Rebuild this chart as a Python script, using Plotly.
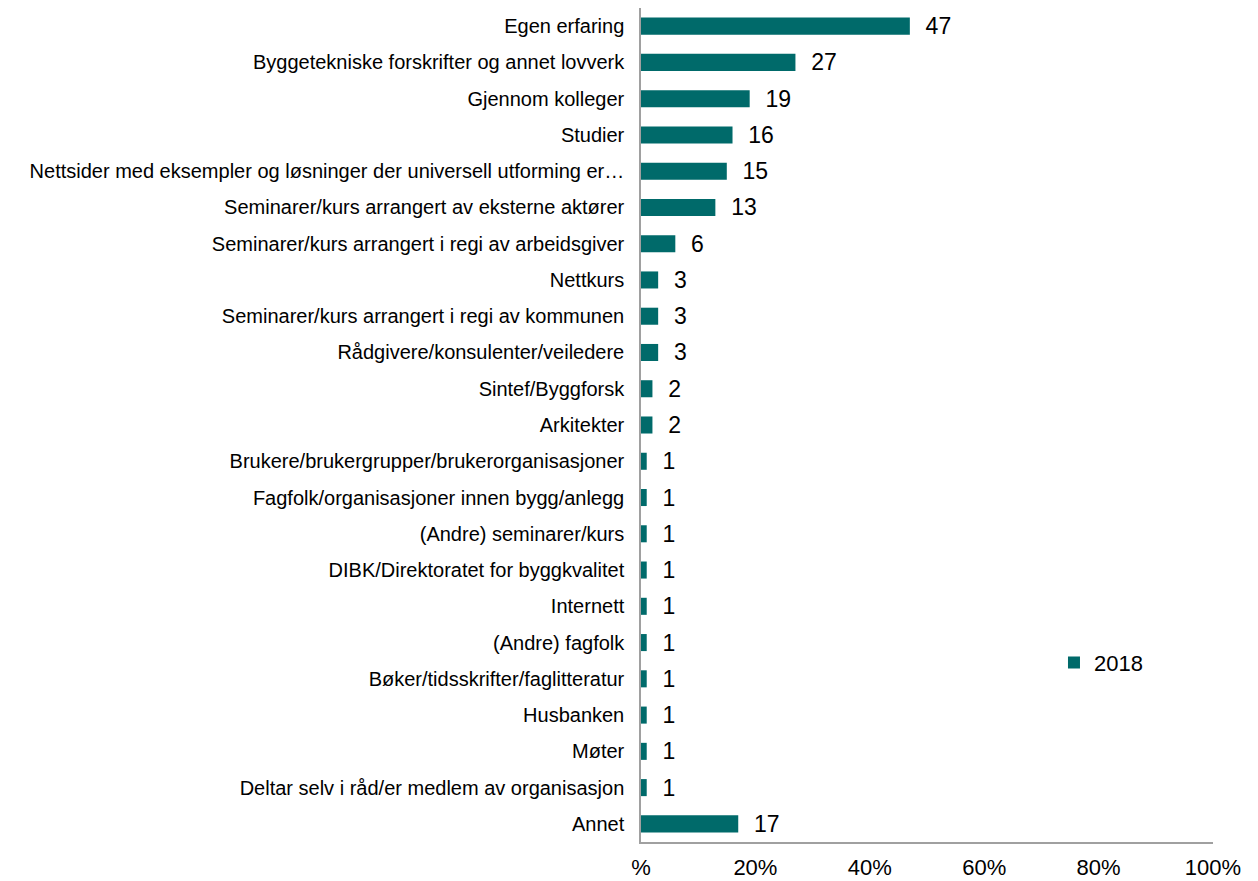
import plotly.graph_objects as go

# categories top to bottom, share of respondents (%)
categories = [
    "Egen erfaring",
    "Byggetekniske forskrifter og annet lovverk",
    "Gjennom kolleger",
    "Studier",
    "Nettsider med eksempler og løsninger der universell utforming er…",
    "Seminarer/kurs arrangert av eksterne aktører",
    "Seminarer/kurs arrangert i regi av arbeidsgiver",
    "Nettkurs",
    "Seminarer/kurs arrangert i regi av kommunen",
    "Rådgivere/konsulenter/veiledere",
    "Sintef/Byggforsk",
    "Arkitekter",
    "Brukere/brukergrupper/brukerorganisasjoner",
    "Fagfolk/organisasjoner innen bygg/anlegg",
    "(Andre) seminarer/kurs",
    "DIBK/Direktoratet for byggkvalitet",
    "Internett",
    "(Andre) fagfolk",
    "Bøker/tidsskrifter/faglitteratur",
    "Husbanken",
    "Møter",
    "Deltar selv i råd/er medlem av organisasjon",
    "Annet",
]
values_2018 = [47, 27, 19, 16, 15, 13, 6, 3, 3, 3, 2, 2, 1, 1, 1, 1, 1, 1, 1, 1, 1, 1, 17]

tick_vals = [0, 20, 40, 60, 80, 100]
tick_text = ["%", "20%", "40%", "60%", "80%", "100%"]

fig = go.Figure()
fig.add_trace(go.Bar(
    x=values_2018,
    y=categories,
    orientation="h",
    name="2018",
    marker=dict(color="#006a6a", line=dict(width=0)),
    width=0.47,
    text=values_2018,
    texttemplate="  %{x}",
    textposition="outside",
    constraintext="none",
    textfont=dict(size=23, color="#000000"),
    cliponaxis=False,
))

# the page adds an 8px body margin, so margins are offset to compensate
fig.update_layout(
    width=1258,
    height=881,
    margin=dict(l=633, r=53, t=0, b=47, autoexpand=False),
    paper_bgcolor="white",
    plot_bgcolor="white",
    font=dict(family="Liberation Sans, Arial, sans-serif", color="#000000"),
    showlegend=True,
    legend=dict(x=0.722, y=0.215, xanchor="left", yanchor="middle",
                font=dict(size=22), bgcolor="rgba(0,0,0,0)"),
    xaxis=dict(
        range=[0, 100],
        tickvals=tick_vals,
        ticktext=tick_text,
        tickfont=dict(size=22),
        showgrid=False,
        zeroline=False,
        showline=True,
        linecolor="#a0a0a0",
        linewidth=1.5,
        ticks="",
        ticklabelstandoff=5,
    ),
    yaxis=dict(
        categoryorder="array",
        categoryarray=categories[::-1],
        tickfont=dict(size=20),
        showgrid=False,
        showline=True,
        linecolor="#a0a0a0",
        linewidth=1.5,
        ticks="",
        ticklabelstandoff=11,
    ),
)

fig.write_html("out.html")
